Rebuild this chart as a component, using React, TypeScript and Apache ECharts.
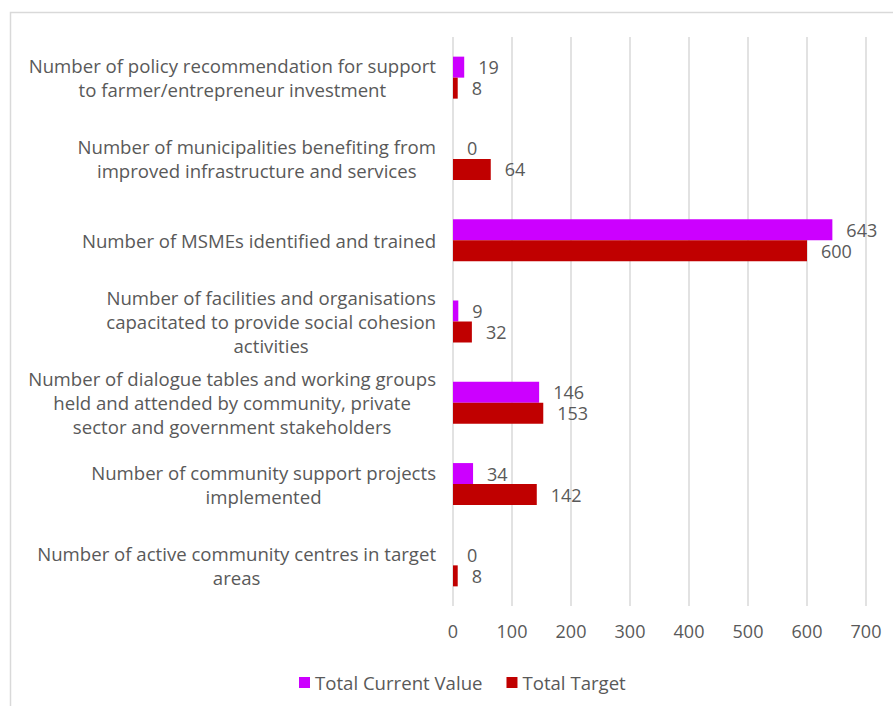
import React, { useEffect, useRef } from "react";
import * as echarts from "echarts";

const categories: string[] = [
  "Number of policy recommendation for support\nto farmer/entrepreneur investment",
  "Number of municipalities benefiting from\nimproved infrastructure and services",
  "Number of MSMEs identified and trained",
  "Number of facilities and organisations\ncapacitated to provide social cohesion\nactivities",
  "Number of dialogue tables and working groups\nheld and attended by community, private\nsector and government stakeholders",
  "Number of community support projects\nimplemented",
  "Number of active community centres in target\nareas",
];
const currentValues: number[] = [19, 0, 643, 9, 146, 34, 0];
const targetValues: number[] = [8, 64, 600, 32, 153, 142, 8];
const seriesNames: string[] = ["Total Current Value", "Total Target"];

const FONT = "'Open Sans', 'Liberation Sans', sans-serif";
const TEXT = "#595959";

export default function App() {
  const ref = useRef<HTMLDivElement>(null);
  useEffect(() => {
    if (!ref.current) return;
    const chart = echarts.init(ref.current, undefined, { renderer: "svg" });
    chart.setOption({
      animation: false,
      backgroundColor: "#ffffff",
      textStyle: { fontFamily: FONT },
      graphic: [
        {
          type: "rect",
          shape: { x: 10.5, y: 12.5, width: 1000, height: 1000 },
          style: { fill: "none", stroke: "#d9d9d9", lineWidth: 1.5 },
          silent: true,
        },
      ],
      grid: { left: 453, right: 27, top: 37, bottom: 100, containLabel: false },
      legend: {
        data: seriesNames,
        left: 294,
        top: 668,
        icon: "rect",
        itemWidth: 11,
        itemHeight: 11,
        itemGap: 24,
        itemTextGap: 7,
        itemStyle: { borderWidth: 0 },
        textStyle: { fontFamily: FONT, fontSize: 18.6, color: TEXT },
      },
      xAxis: {
        type: "value",
        min: 0,
        max: 700,
        interval: 100,
        axisLine: { show: false },
        axisTick: { show: false },
        splitLine: { show: true, lineStyle: { color: "#d9d9d9", width: 1.5 } },
        axisLabel: { fontFamily: FONT, fontSize: 18, color: TEXT, margin: 16 },
      },
      yAxis: {
        type: "category",
        inverse: true,
        data: categories,
        axisLine: { show: false },
        axisTick: { show: false },
        axisLabel: {
          margin: 17,
          align: "right",
          lineHeight: 24,
          fontFamily: FONT,
          fontSize: 18.6,
          color: TEXT,
          formatter: (v: string) =>
            v
              .split("\n")
              .map((l) => "{c|" + l + "}")
              .join("\n"),
          rich: {
            c: { align: "center", fontFamily: FONT, fontSize: 18.6, color: TEXT, lineHeight: 24 },
          },
        },
      },
      series: [
        {
          name: seriesNames[0],
          type: "bar",
          data: currentValues,
          barWidth: 21,
          barGap: "0%",
          itemStyle: { color: "#cc00ff" },
          label: {
            show: true,
            position: "right",
            distance: 14,
            fontFamily: FONT,
            fontSize: 18,
            color: TEXT,
          },
        },
        {
          name: seriesNames[1],
          type: "bar",
          data: targetValues,
          barWidth: 21,
          barGap: "0%",
          itemStyle: { color: "#c00000" },
          label: {
            show: true,
            position: "right",
            distance: 14,
            fontFamily: FONT,
            fontSize: 18,
            color: TEXT,
          },
        },
      ],
    });
    return () => chart.dispose();
  }, []);
  return (
    <div
      ref={ref}
      style={{ position: "fixed", left: 0, top: 0, width: 893, height: 706 }}
    />
  );
}
